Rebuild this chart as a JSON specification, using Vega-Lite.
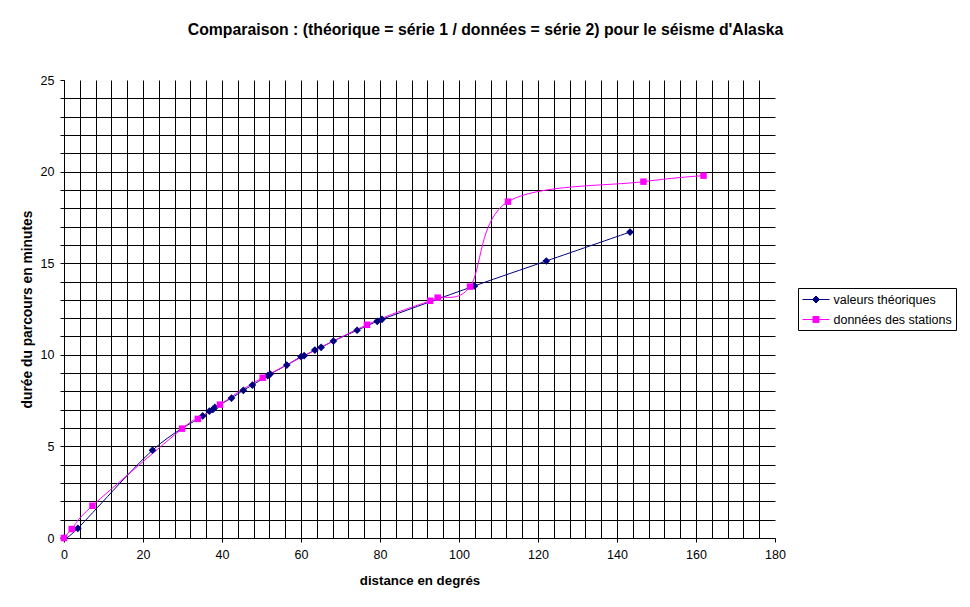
{
  "$schema": "https://vega.github.io/schema/vega-lite/v6.json",
  "width": 711,
  "height": 458,
  "autosize": "none",
  "padding": {"left": 64, "top": 80, "right": 195, "bottom": 69},
  "background": "white",
  "title": {
    "text": "Comparaison : (théorique = série 1 / données = série 2) pour le séisme d'Alaska",
    "font": "Liberation Sans",
    "fontSize": 15.8,
    "fontWeight": "bold",
    "color": "black",
    "anchor": "middle",
    "frame": "group",
    "dx": 66,
    "offset": 35
  },
  "config": {"view": {"stroke": null}},
  "data": {
    "values": [
      {"serie": "valeurs théoriques", "distance": 0, "duree": 0},
      {"serie": "valeurs théoriques", "distance": 3.5, "duree": 0.53},
      {"serie": "valeurs théoriques", "distance": 22.4, "duree": 4.79},
      {"serie": "valeurs théoriques", "distance": 35.1, "duree": 6.66},
      {"serie": "valeurs théoriques", "distance": 36.8, "duree": 6.92},
      {"serie": "valeurs théoriques", "distance": 37.7, "duree": 7.02},
      {"serie": "valeurs théoriques", "distance": 38.2, "duree": 7.13},
      {"serie": "valeurs théoriques", "distance": 42.4, "duree": 7.64},
      {"serie": "valeurs théoriques", "distance": 45.4, "duree": 8.06},
      {"serie": "valeurs théoriques", "distance": 47.7, "duree": 8.35},
      {"serie": "valeurs théoriques", "distance": 51.6, "duree": 8.86},
      {"serie": "valeurs théoriques", "distance": 52.2, "duree": 8.95},
      {"serie": "valeurs théoriques", "distance": 56.4, "duree": 9.44},
      {"serie": "valeurs théoriques", "distance": 60.0, "duree": 9.9},
      {"serie": "valeurs théoriques", "distance": 60.8, "duree": 9.95},
      {"serie": "valeurs théoriques", "distance": 63.5, "duree": 10.26},
      {"serie": "valeurs théoriques", "distance": 65.1, "duree": 10.41},
      {"serie": "valeurs théoriques", "distance": 68.2, "duree": 10.75},
      {"serie": "valeurs théoriques", "distance": 74.2, "duree": 11.34},
      {"serie": "valeurs théoriques", "distance": 79.3, "duree": 11.83},
      {"serie": "valeurs théoriques", "distance": 80.5, "duree": 11.94},
      {"serie": "valeurs théoriques", "distance": 103.9, "duree": 13.76},
      {"serie": "valeurs théoriques", "distance": 122.1, "duree": 15.12},
      {"serie": "valeurs théoriques", "distance": 143.3, "duree": 16.7},
      {"serie": "données des stations", "distance": 0, "duree": 0},
      {"serie": "données des stations", "distance": 1.95, "duree": 0.49},
      {"serie": "données des stations", "distance": 7.2, "duree": 1.76},
      {"serie": "données des stations", "distance": 29.9, "duree": 5.97},
      {"serie": "données des stations", "distance": 33.9, "duree": 6.5},
      {"serie": "données des stations", "distance": 39.5, "duree": 7.28},
      {"serie": "données des stations", "distance": 50.3, "duree": 8.75},
      {"serie": "données des stations", "distance": 76.7, "duree": 11.64},
      {"serie": "données des stations", "distance": 92.7, "duree": 12.95},
      {"serie": "données des stations", "distance": 94.6, "duree": 13.12},
      {"serie": "données des stations", "distance": 102.8, "duree": 13.72},
      {"serie": "données des stations", "distance": 112.4, "duree": 18.36},
      {"serie": "données des stations", "distance": 146.7, "duree": 19.45},
      {"serie": "données des stations", "distance": 161.9, "duree": 19.78}
    ]
  },
  "encoding": {
    "x": {
      "field": "distance",
      "type": "quantitative",
      "scale": {"domain": [0, 180], "nice": false, "zero": false},
      "axis": {
        "title": "distance en degrés",
        "values": [0,4,8,12,16,20,24,28,32,36,40,44,48,52,56,60,64,68,72,76,80,84,88,92,96,100,104,108,112,116,120,124,128,132,136,140,144,148,152,156,160,164,168,172,176,180],
        "labelExpr": "datum.value % 20 === 0 ? datum.label : ''",
        "labelOverlap": false,
        "labelFlush": false,
        "tickOpacity": {"condition": {"test": "datum.value % 20 === 0", "value": 1}, "value": 0},
        "grid": true,
        "gridColor": "black",
        "gridWidth": 1,
        "gridOpacity": {"condition": {"test": "datum.value === 180", "value": 0}, "value": 1},
        "domainColor": "black",
        "tickColor": "black",
        "tickSize": 4,
        "labelFont": "Liberation Sans",
        "labelFontSize": 12.5,
        "labelColor": "black",
        "labelPadding": 6,
        "titleFont": "Liberation Sans",
        "titleFontSize": 13.3,
        "titleFontWeight": "bold",
        "titleColor": "black",
        "titlePadding": 13
      }
    },
    "y": {
      "field": "duree",
      "type": "quantitative",
      "scale": {"domain": [0, 25], "nice": false},
      "axis": {
        "title": "durée du parcours en minutes",
        "values": [0,1,2,3,4,5,6,7,8,9,10,11,12,13,14,15,16,17,18,19,20,21,22,23,24,25],
        "labelExpr": "datum.value % 5 === 0 ? datum.label : ''",
        "labelOverlap": false,
        "labelFlush": false,
        "grid": true,
        "gridColor": "black",
        "gridWidth": 1,
        "gridOpacity": {"condition": {"test": "datum.value === 25", "value": 0}, "value": 1},
        "domainColor": "black",
        "tickColor": "black",
        "tickSize": 4,
        "labelFont": "Liberation Sans",
        "labelFontSize": 12.5,
        "labelColor": "black",
        "labelPadding": 6,
        "titleFont": "Liberation Sans",
        "titleFontSize": 13.8,
        "titleFontWeight": "bold",
        "titleColor": "black",
        "titlePadding": 6
      }
    },
    "color": {
      "field": "serie",
      "type": "nominal",
      "scale": {"domain": ["valeurs théoriques", "données des stations"], "range": ["#000080", "#FF00FF"]},
      "legend": {
        "title": null,
        "orient": "none",
        "legendX": 734,
        "legendY": 208,
        "strokeColor": "black",
        "fillColor": "white",
        "padding": 4,
        "labelFont": "Liberation Sans",
        "labelFontSize": 12.5,
        "labelColor": "black",
        "labelOffset": 10,
        "symbolSize": 196,
        "symbolOffset": 6.5,
        "symbolStrokeWidth": 1,
        "rowPadding": 6
      }
    }
  },
  "layer": [
    {
      "mark": {"type": "line", "interpolate": "cardinal", "strokeWidth": 1}
    },
    {
      "transform": [{"filter": "datum.serie === 'valeurs théoriques'"}],
      "mark": {"type": "point", "shape": "diamond", "filled": true, "opacity": 1, "size": 60}
    },
    {
      "transform": [{"filter": "datum.serie === 'données des stations'"}],
      "mark": {"type": "point", "shape": "square", "filled": true, "opacity": 1, "size": 42}
    },
    {
      "transform": [{"filter": "datum.duree < -100"}],
      "mark": {"type": "point", "filled": false, "opacity": 1, "strokeWidth": 1},
      "encoding": {
        "shape": {
          "field": "serie",
          "type": "nominal",
          "scale": {
            "domain": ["valeurs théoriques", "données des stations"],
            "range": [
              "M-1.93,0L1.93,0M0,-0.5L0.5,0L0,0.5L-0.5,0Z",
              "M-1.93,0L1.93,0M-0.43,-0.43L0.43,-0.43L0.43,0.43L-0.43,0.43Z"
            ]
          },
          "legend": {
            "title": null,
            "orient": "none",
            "legendX": 734,
            "legendY": 208,
            "strokeColor": "black",
            "fillColor": "white",
            "padding": 4,
            "labelFont": "Liberation Sans",
            "labelFontSize": 12.5,
            "labelColor": "black",
            "labelOffset": 10,
            "symbolSize": 196,
            "symbolOffset": 6.5,
            "symbolStrokeWidth": 1,
            "rowPadding": 6
          }
        }
      }
    }
  ]
}
